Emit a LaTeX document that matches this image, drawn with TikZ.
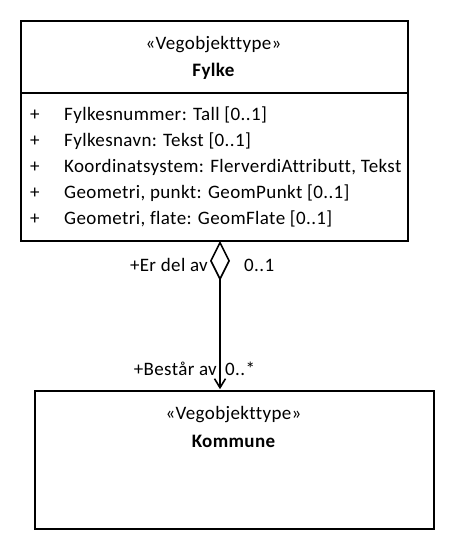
\documentclass[tikz,border=0pt]{standalone}
\usepackage{fontspec}
\setmainfont{Carlito}[LetterSpace=2,Ligatures=NoCommon]
\usetikzlibrary{arrows.meta}
\begin{document}
\begin{tikzpicture}[x=1pt,y=-1pt,
  box/.style={draw,line width=1.6pt,inner sep=0pt},
  txt/.style={inner sep=0pt,font=\fontsize{19}{22}\selectfont},
  btxt/.style={inner sep=0pt,font=\fontsize{19}{22}\selectfont\bfseries},
  attr/.style={txt,anchor=west},
  lbl/.style={txt}]
\useasboundingbox (0,0) rectangle (454,550);
\node[box,minimum width=387pt,minimum height=220pt,anchor=north west] (fylke) at (20,20) {};
\coordinate (divl) at (20,93);
\coordinate (divr) at (407,93);
\draw[line width=1.6pt] (divl) -- (divr);
\node[txt] (fst) at (213.5,45) {«Vegobjekttype»};
\node[btxt] (fname) at (213.5,71) {Fylke};
\foreach \y/\t [count=\i] in {115/{Fylkesnummer: Tall [0..1]},141/{Fylkesnavn: Tekst [0..1]},167/{Koordinatsystem: FlerverdiAttributt, Tekst},193/{Geometri, punkt: GeomPunkt [0..1]},219/{Geometri, flate: GeomFlate [0..1]}}{
  \node[attr] (p\i) at (30,\y) {+};
  \node[attr] (a\i) at (64,\y) {\t};
}
\node[box,minimum width=399pt,minimum height=138pt,anchor=north west] (kommune) at (34,390) {};
\node[txt] (kst) at (233.5,415) {«Vegobjekttype»};
\node[btxt] (kname) at (233.5,441) {Kommune};
\coordinate (src) at (220,240.8);
\coordinate (dst) at (220,389.2);
\draw[line width=1.6pt,{Diamond[open,length=40pt,width=20pt,line width=1.6pt]}-{Straight Barb[length=9pt,width=11pt,line width=1.6pt]}] (src) -- (dst);
\node[lbl,anchor=east] (erdel) at (208,265) {+Er del av};
\node[lbl,anchor=west] (m1) at (244,265) {0..1};
\node[lbl,anchor=east] (best) at (217,369) {+Består av};
\node[lbl,anchor=west] (m2) at (225,369) {0..*};
\end{tikzpicture}
\end{document}
